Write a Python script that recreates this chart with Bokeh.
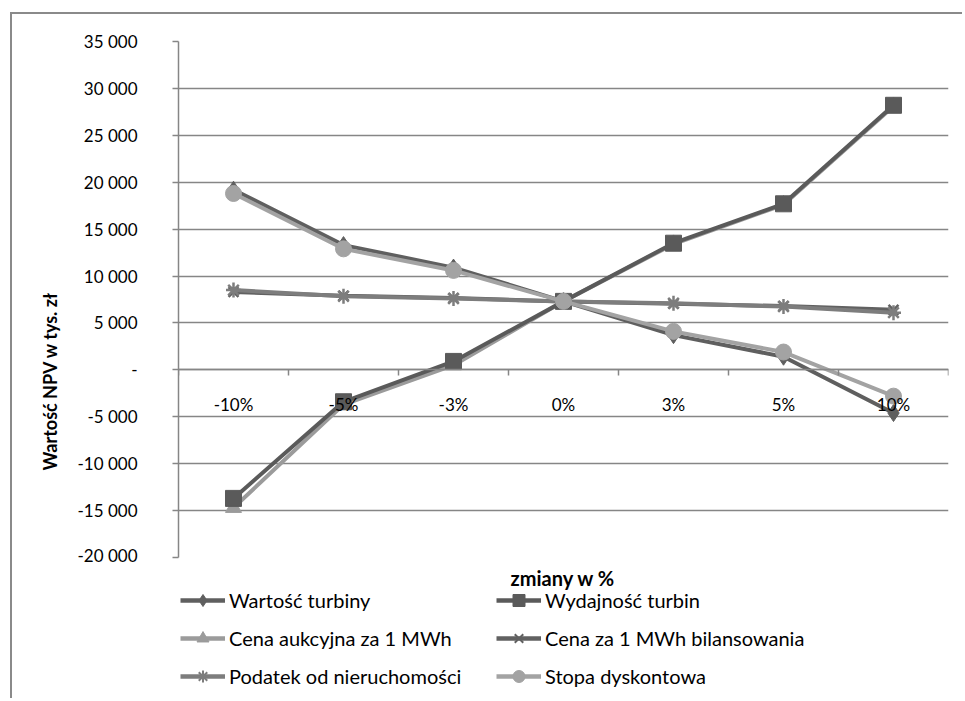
from bokeh.plotting import figure
from bokeh.layouts import column
from bokeh.models import Range1d, FixedTicker, Legend, LegendItem, Label, Title
from bokeh.embed import file_html
from bokeh.resources import INLINE

# ---- data ----
categories = ["-10%", "-5%", "-3%", "0%", "3%", "5%", "10%"]
wartosc_turbiny = [19200, 13300, 10900, 7300, 3700, 1400, -4600]
wydajnosc_turbin = [-13700, -3400, 900, 7300, 13500, 17700, 28200]
cena_aukcyjna = [-14700, -3700, 500, 7300, 13400, 17600, 28100]
cena_bilansowania = [8300, 7900, 7650, 7300, 7050, 6800, 6400]
podatek = [8500, 7850, 7600, 7300, 7100, 6750, 6100]
stopa_dyskontowa = [18800, 12900, 10600, 7300, 4100, 1900, -2800]

y_ticks = [-20000, -15000, -10000, -5000, 0, 5000, 10000, 15000, 20000, 25000, 30000, 35000]
y_tick_labels = ["-20 000", "-15 000", "-10 000", "-5 000", "-", "5 000", "10 000",
                 "15 000", "20 000", "25 000", "30 000", "35 000"]
x_title = "zmiany w %"
y_title = "Wartość  NPV w tys. zł"

FONT = "Lato"
GRID = "#868686"

xs = [i + 0.5 for i in range(len(categories))]

p = figure(width=950, height=551, output_backend="svg", toolbar_location=None,
           x_range=Range1d(0, len(categories)), y_range=Range1d(y_ticks[0], y_ticks[-1]),
           min_border_left=166, min_border_right=14, min_border_top=27, min_border_bottom=8)
p.outline_line_color = None
p.background_fill_color = "white"
p.border_fill_color = "white"

# y axis
p.yaxis.ticker = FixedTicker(ticks=y_ticks, minor_ticks=[])
p.yaxis.major_label_overrides = {t: l for t, l in zip(y_ticks, y_tick_labels)}
p.yaxis.axis_line_color = GRID
p.yaxis.axis_line_width = 1.5
p.yaxis.major_tick_line_color = GRID
p.yaxis.major_tick_line_width = 1.5
p.yaxis.major_tick_out = 6
p.yaxis.major_tick_in = 0
p.yaxis.minor_tick_line_color = None
p.yaxis.major_label_standoff = 35
p.yaxis.major_label_text_font = FONT
p.yaxis.major_label_text_font_size = "17px"
p.yaxis.major_label_text_color = "black"

# y title, placed lower than the plot centre as in the reference
p.add_layout(Title(text=y_title, align="left", offset=87, text_font=FONT,
                   text_font_size="18px", text_font_style="bold", text_color="black",
                   standoff=28), "left")

# x axis drawn at y = 0
p.xaxis.fixed_location = 0
p.xaxis.ticker = FixedTicker(ticks=xs, minor_ticks=list(range(len(categories) + 1)))
p.xaxis.major_label_overrides = {x: c for x, c in zip(xs, categories)}
p.xaxis.axis_line_color = GRID
p.xaxis.axis_line_width = 1.5
p.xaxis.major_tick_line_color = None
p.xaxis.minor_tick_line_color = GRID
p.xaxis.minor_tick_line_width = 1.5
p.xaxis.minor_tick_out = 6
p.xaxis.minor_tick_in = 0
p.xaxis.major_label_standoff = 18
p.xaxis.major_label_text_font = FONT
p.xaxis.major_label_text_font_size = "17px"
p.xaxis.major_label_text_color = "black"

p.xgrid.visible = False
p.ygrid.ticker = FixedTicker(ticks=y_ticks)
p.ygrid.grid_line_color = GRID
p.ygrid.grid_line_width = 1.5

series = [
    ("Wartość turbiny", wartosc_turbiny, "#5f5f5f", "diamond", 17),
    ("Wydajność turbin", wydajnosc_turbin, "#5a5a5a", "square", 16),
    ("Cena aukcyjna za 1 MWh", cena_aukcyjna, "#9b9b9b", "triangle", 16),
    ("Cena za 1 MWh bilansowania", cena_bilansowania, "#616161", "x", 14),
    ("Podatek od nieruchomości", podatek, "#7d7d7d", "asterisk", 15),
    ("Stopa dyskontowa", stopa_dyskontowa, "#a3a3a3", "circle", 16),
]
draw_order = [0, 2, 1, 3, 4, 5]
for i in draw_order:
    name, vals, col, marker, size = series[i]
    p.line(xs, vals, line_color=col, line_width=4)
    p.scatter(xs, vals, marker=marker, size=size, fill_color=col, line_color=col,
              line_width=2.5 if marker in ("x", "asterisk") else 1)

# ---- legend strip below the chart (its frame is aligned with the chart's frame) ----
p2 = figure(width=950, height=133, output_backend="svg", toolbar_location=None,
            x_axis_type=None, y_axis_type=None, x_range=Range1d(0, 1), y_range=Range1d(0, 1),
            min_border=0)
p2.outline_line_color = None
p2.xgrid.visible = False
p2.ygrid.visible = False

NAN = float("nan")
legend_items = []
for name, vals, col, marker, size in series:
    lr = p2.line([NAN], [NAN], line_color=col, line_width=4.5)
    sr = p2.scatter([NAN], [NAN], marker=marker, size=size, fill_color=col,
                    line_color=col, line_width=2 if marker in ("x", "asterisk") else 1)
    legend_items.append(LegendItem(label=name, renderers=[lr, sr]))

def add_legend(items, x):
    lg = Legend(items=items, location=(x, 7), orientation="vertical",
                glyph_width=45, glyph_height=30, label_height=24, label_standoff=4,
                spacing=8, padding=0, margin=0, border_line_color=None,
                background_fill_alpha=0, label_text_font=FONT,
                label_text_font_size="20px", label_text_color="black")
    p2.add_layout(lg, "center")

add_legend(legend_items[0::2], 2)
add_legend(legend_items[1::2], 318)

p2.add_layout(Label(x=332, y=121, x_units="screen", y_units="screen", text=x_title,
                    text_font=FONT, text_font_size="20px", text_font_style="bold",
                    text_baseline="middle", text_color="black"))

layout = column(p, p2, spacing=0)
layout.styles = {"border-left": "2px solid #8a8a8a", "border-top": "2px solid #8a8a8a",
                 "margin-left": "10px", "margin-top": "12px"}

open("out.html", "w").write(file_html(layout, INLINE))
